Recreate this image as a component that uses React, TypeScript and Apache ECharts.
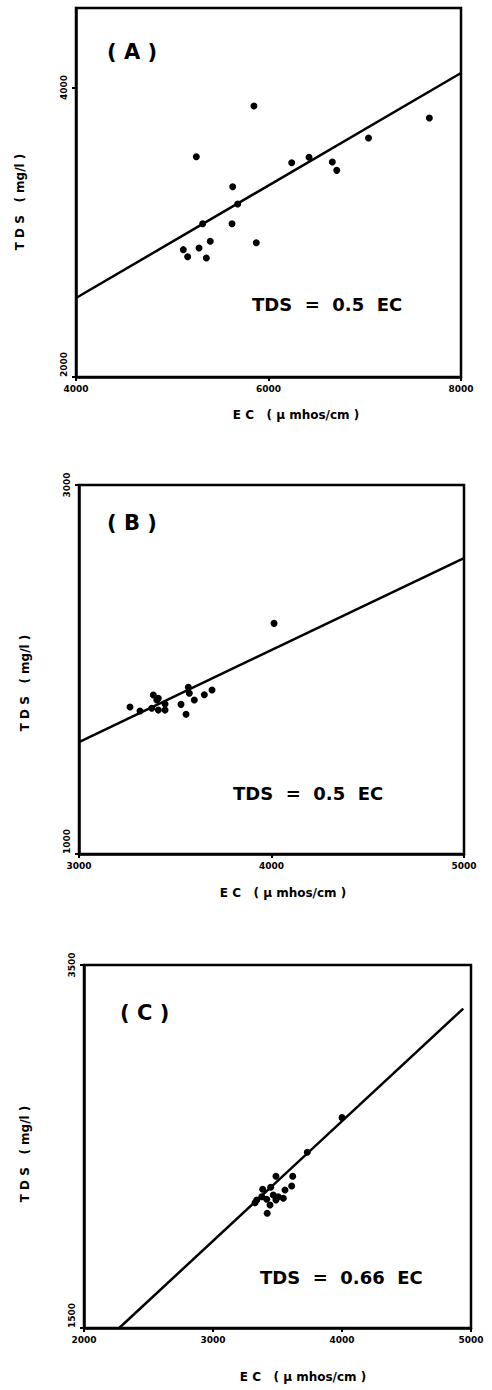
import React, { useEffect, useRef } from "react";
import * as echarts from "echarts";

// ---------- Panel A ----------
const aEC = [5250, 5628, 5680, 5316, 5621, 5395, 5278, 5115, 5160, 5354, 5873, 6241, 6421, 6663, 6709, 7039, 5849, 7671];
const aTDS = [3522, 3315, 3196, 3059, 3059, 2938, 2892, 2880, 2831, 2822, 2928, 3481, 3518, 3486, 3428, 3652, 3873, 3790];
const aFitEC = [4000, 8000];
const aFitTDS = [2546, 4101];
const aXTicks = [4000, 6000, 8000];
const aYTicks = [2000, 4000];

// ---------- Panel B ----------
const bEC = [4013, 3265, 3317, 3386, 3412, 3378, 3412, 3447, 3447, 3530, 3556, 3568, 3573, 3599, 3651, 3691, 3404];
const bTDS = [2250, 1797, 1775, 1862, 1844, 1790, 1780, 1813, 1780, 1811, 1757, 1904, 1871, 1835, 1863, 1889, 1835];
const bFitEC = [3000, 5000];
const bFitTDS = [1607, 2604];
const bXTicks = [3000, 4000, 5000];
const bYTicks = [1000, 3000];

// ---------- Panel C ----------
const cEC = [4000, 3731, 3488, 3618, 3385, 3447, 3558, 3610, 3467, 3506, 3545, 3339, 3378, 3416, 3442, 3326, 3420, 3488];
const cTDS = [2659, 2468, 2336, 2336, 2264, 2275, 2260, 2282, 2233, 2223, 2215, 2205, 2223, 2209, 2178, 2190, 2132, 2205];
const cFitEC = [2273, 4940];
const cFitTDS = [1500, 3260];
const cXTicks = [2000, 3000, 4000, 5000];
const cYTicks = [1500, 3500];

const panelLabels = ["( A )", "( B )", "( C )"];
const equations = ["TDS  =  0.5  EC", "TDS  =  0.5  EC", "TDS  =  0.66  EC"];
const xTitle = "E C   ( µ mhos/cm )";
const yTitle = "T D S   ( mg/l )";

const FONT = "DejaVu Sans";

export default function App() {
  const ref = useRef<HTMLDivElement>(null);
  useEffect(() => {
    if (!ref.current) return;
    const chart = echarts.init(ref.current, undefined, { renderer: "svg" });

    const grids = [
      { left: 76, top: 8, width: 385, height: 369 },
      { left: 79, top: 485, width: 385, height: 369 },
      { left: 84, top: 965, width: 387, height: 363 },
    ];
    const ranges = [
      { x: [4000, 8000], y: [2000, 4550], xt: aXTicks, yt: aYTicks },
      { x: [3000, 5000], y: [1000, 3000], xt: bXTicks, yt: bYTicks },
      { x: [2000, 5000], y: [1500, 3500], xt: cXTicks, yt: cYTicks },
    ];
    const scat = [
      [aEC, aTDS],
      [bEC, bTDS],
      [cEC, cTDS],
    ];
    const fits = [
      [aFitEC, aFitTDS],
      [bFitEC, bFitTDS],
      [cFitEC, cFitTDS],
    ];
    const titlePos = [
      { xt: [296, 415], yt: [20, 202], lab: [107, 41], eq: [252, 295] },
      { xt: [283, 893], yt: [25, 683], lab: [107, 512], eq: [233, 784] },
      { xt: [303, 1377], yt: [25, 1154], lab: [120, 1002], eq: [260, 1268] },
    ];

    const pair = (xs: number[], ys: number[]) => xs.map((v, i) => [v, ys[i]]);
    const plain = (v: number) => String(v);

    const graphic: any[] = [];
    titlePos.forEach((p, i) => {
      graphic.push({
        type: "text",
        x: p.xt[0],
        y: p.xt[1],
        style: { text: xTitle, font: `bold 12px "${FONT}"`, fill: "#000", align: "center", verticalAlign: "middle" },
      });
      graphic.push({
        type: "text",
        x: p.yt[0],
        y: p.yt[1],
        rotation: Math.PI / 2,
        style: { text: yTitle, font: `bold 12px "${FONT}"`, fill: "#000", align: "center", verticalAlign: "middle" },
      });
      graphic.push({
        type: "text",
        left: p.lab[0],
        top: p.lab[1],
        style: { text: panelLabels[i], font: `bold 21px "${FONT}"`, fill: "#000" },
      });
      graphic.push({
        type: "text",
        left: p.eq[0],
        top: p.eq[1],
        style: { text: equations[i], font: `bold 18px "${FONT}"`, fill: "#000" },
      });
    });

    const option: any = {
      animation: false,
      backgroundColor: "#fff",
      grid: grids.map((g) => ({
        ...g,
        show: true,
        borderColor: "#000",
        borderWidth: 2.5,
        backgroundColor: "transparent",
      })),
      xAxis: ranges.map((r, i) => ({
        type: "value",
        gridIndex: i,
        min: r.x[0],
        max: r.x[1],
        splitLine: { show: false },
        axisLine: { show: true, lineStyle: { color: "#000", width: 2.5 } },
        axisTick: { show: true, customValues: r.xt, length: 4, lineStyle: { color: "#000", width: 2 } },
        axisLabel: {
          customValues: r.xt,
          formatter: plain,
          margin: 7,
          fontFamily: FONT,
          fontWeight: "bold",
          fontSize: 9,
          color: "#000",
        },
      })),
      yAxis: ranges.map((r, i) => ({
        type: "value",
        gridIndex: i,
        min: r.y[0],
        max: r.y[1],
        splitLine: { show: false },
        axisLine: { show: true, lineStyle: { color: "#000", width: 2.5 } },
        axisTick: { show: true, customValues: r.yt, length: 4, lineStyle: { color: "#000", width: 2 } },
        axisLabel: {
          customValues: r.yt,
          formatter: plain,
          rotate: 90,
          margin: 8,
          alignMinLabel: "left",
          fontFamily: FONT,
          fontWeight: "bold",
          fontSize: 9,
          color: "#000",
        },
      })),
      series: [
        ...fits.map((f, i) => ({
          type: "line",
          xAxisIndex: i,
          yAxisIndex: i,
          data: pair(f[0], f[1]),
          showSymbol: false,
          symbol: "none",
          clip: true,
          lineStyle: { color: "#000", width: 2.5 },
          z: 2,
        })),
        ...scat.map((s, i) => ({
          type: "scatter",
          xAxisIndex: i,
          yAxisIndex: i,
          data: pair(s[0], s[1]),
          symbol: "circle",
          symbolSize: 7,
          itemStyle: { color: "#000", opacity: 1 },
          z: 3,
        })),
      ],
      graphic,
    };
    chart.setOption(option);
    return () => chart.dispose();
  }, []);
  return (
    <div
      ref={ref}
      style={{ position: "absolute", left: 0, top: 0, width: 492, height: 1390, background: "#fff" }}
    />
  );
}
